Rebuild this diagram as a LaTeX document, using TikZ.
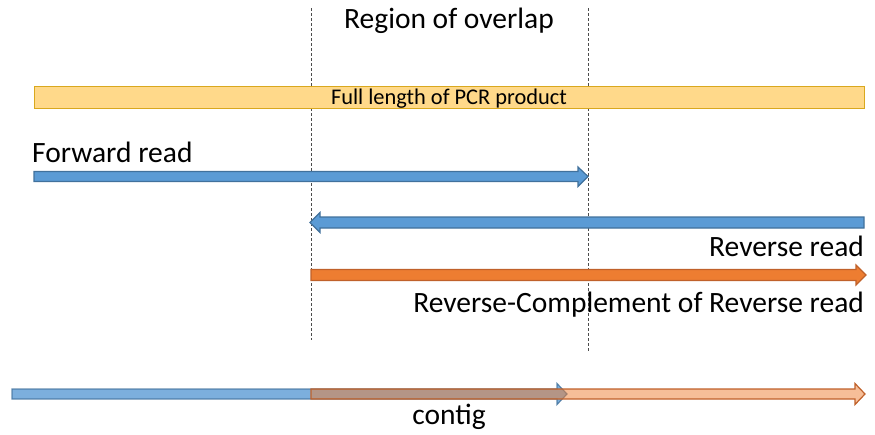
\documentclass[tikz,border=0pt]{standalone}
\usepackage{fontspec}
\setmainfont{Carlito}
\begin{document}
\begin{tikzpicture}[x=1pt,y=-1pt,
  lbl/.style={inner sep=0pt,font=\fontsize{29.5}{32}\selectfont},
  blueshape/.style={fill=bluef,draw=blued,line width=1.2pt,line join=miter},
  orangeshape/.style={fill=orangef,draw=oranged,line width=1.2pt,line join=miter},
  guide/.style={draw=black!70,dashed,line width=0.6pt,dash pattern=on 3pt off 2pt}]
\definecolor{bluef}{HTML}{5B9BD5}
\definecolor{blued}{HTML}{41719C}
\definecolor{orangef}{HTML}{ED7D31}
\definecolor{oranged}{HTML}{C0612A}
\definecolor{yellowf}{HTML}{FFD98A}
\definecolor{yellowd}{HTML}{D9A81E}
\useasboundingbox (0,0) rectangle (875,434);
% guides
\coordinate (g1t) at (311,8); \coordinate (g1b) at (311,340);
\coordinate (g2t) at (588,8); \coordinate (g2b) at (588,352);
\draw[guide] (g1t) -- (g1b);
\draw[guide] (g2t) -- (g2b);
\node[lbl,anchor=base] (overlap) at (449,28) {Region of overlap};
% PCR product
\draw[fill=yellowf,draw=yellowd,line width=1pt] (34,86) rectangle (864,108);
\node[inner sep=0pt,anchor=base,font=\fontsize{22.4}{24}\selectfont] (pcr) at (449,104) {Full length of PCR product};
% forward read
\node[lbl,anchor=base west] (fwd) at (32,162) {Forward read};
\draw[blueshape] (34,171.5) -- (578,171.5) -- (578,167) -- (588,176.5) -- (578,186.5) -- (578,181.5) -- (34,181.5) -- cycle;
% reverse read
\draw[blueshape] (864,217) -- (320,217) -- (320,212.5) -- (310,222.5) -- (320,232.5) -- (320,228) -- (864,228) -- cycle;
\node[lbl,anchor=base east] (rev) at (864,256) {Reverse read};
% reverse complement
\draw[orangeshape] (311,269.5) -- (856,269.5) -- (856,265) -- (866,275) -- (856,285) -- (856,280.5) -- (311,280.5) -- cycle;
\node[lbl,anchor=base east] (rc) at (864,312) {Reverse-Complement of Reverse read};
% contig
\draw[fill=bluef,fill opacity=0.8,draw=blued,draw opacity=0.8,line width=1.2pt,line join=miter] (12,389) -- (557,389) -- (557,383.5) -- (567,394) -- (557,404.5) -- (557,399) -- (12,399) -- cycle;
\draw[fill=orangef,fill opacity=0.5,draw=oranged,line width=1.2pt,line join=miter] (311,389) -- (855,389) -- (855,383.5) -- (865,394) -- (855,404.5) -- (855,399) -- (311,399) -- cycle;
\node[lbl,anchor=base] (contig) at (449,424) {contig};
\end{tikzpicture}
\end{document}
